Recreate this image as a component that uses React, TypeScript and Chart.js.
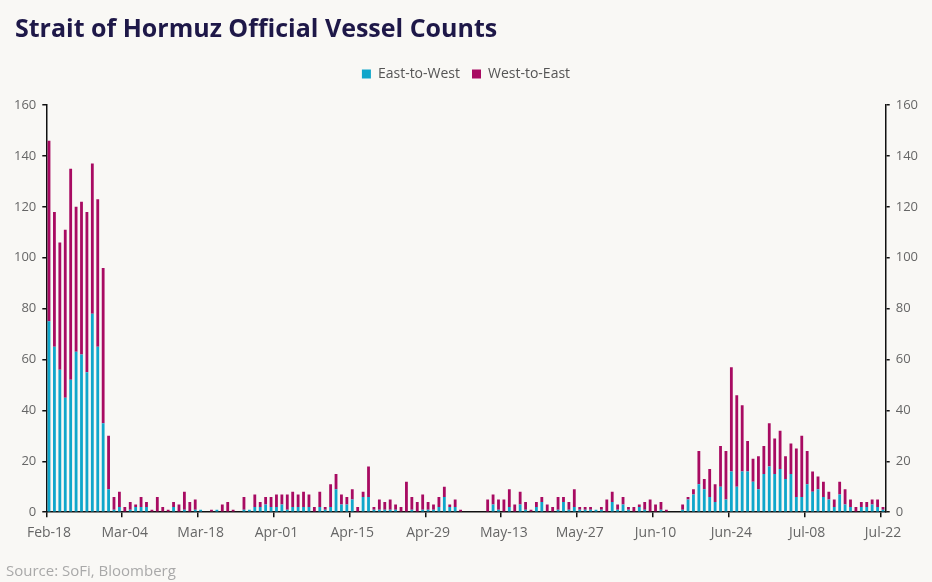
import { Chart, registerables, ChartConfiguration } from "chart.js";
import { useEffect, useRef } from "react";

Chart.register(...registerables);

// daily vessel counts, Feb-18 .. Jul-22
const eastToWest = [
  75, 65, 56, 45, 52, 63, 62, 55, 78, 65, 35, 9,
  1, 2, 0, 1, 2, 2, 2, 0, 0, 0, 0, 2, 0, 1, 0, 1,
  1, 0, 0, 1, 0, 0, 0, 0, 1, 1, 2, 2, 3, 2,
  2, 3, 1, 2, 2, 2, 2, 0, 2, 1, 2, 9, 3, 3,
  5, 0, 6, 6, 1, 1, 1, 1, 1, 0, 0, 1, 0, 1,
  1, 1, 2, 6, 2, 2, 0, 0, 0, 0, 0, 0, 3, 1,
  0, 2, 0, 3, 1, 0, 2, 4, 0, 0, 1, 4, 1, 2,
  1, 1, 1, 1, 1, 0, 4, 1, 3, 1, 0, 2, 1, 0,
  0, 1, 0, 0, 0, 1, 5, 7, 11, 9, 6, 4, 10, 5,
  16, 10, 16, 16, 12, 9, 15, 18, 15, 17, 13, 15, 6, 6,
  11, 8, 9, 6, 5, 2, 7, 3, 2, 0, 2, 2, 3, 2, 1,
];

const westToEast = [
  71, 53, 50, 66, 83, 57, 60, 63, 59, 58, 61, 21,
  5, 6, 2, 3, 1, 4, 2, 1, 6, 2, 1, 2, 3, 7, 4, 4,
  0, 0, 1, 0, 3, 4, 1, 0, 5, 0, 5, 2, 3, 4,
  5, 4, 6, 6, 5, 6, 5, 2, 6, 1, 9, 6, 4, 3,
  4, 2, 2, 12, 1, 4, 3, 4, 2, 2, 12, 5, 4, 6,
  3, 2, 4, 4, 1, 3, 1, 0, 0, 0, 0, 5, 4, 4,
  5, 7, 3, 5, 3, 1, 2, 2, 3, 2, 5, 2, 3, 7,
  1, 1, 1, 0, 1, 5, 4, 2, 3, 1, 2, 1, 3, 5,
  3, 3, 1, 0, 0, 2, 1, 2, 13, 4, 11, 7, 16, 19,
  41, 36, 26, 12, 9, 13, 11, 17, 14, 15, 9, 12, 19, 24,
  13, 8, 5, 6, 3, 3, 5, 6, 3, 2, 2, 2, 2, 3, 1,
];

const tickLabels = [
  "Feb-18", "Mar-04", "Mar-18", "Apr-01", "Apr-15", "Apr-29",
  "May-13", "May-27", "Jun-10", "Jun-24", "Jul-08", "Jul-22",
];

const months: [string, number][] = [
  ["Feb", 28], ["Mar", 31], ["Apr", 30], ["May", 31], ["Jun", 30], ["Jul", 31],
];

// one category per day
const days: string[] = [];
let m = 0;
let d = 18;
while (days.length < eastToWest.length) {
  days.push(`${months[m][0]}-${String(d).padStart(2, "0")}`);
  d++;
  if (d > months[m][1]) {
    d = 1;
    m++;
  }
}

const BLUE = "#10a6cb";
const MAGENTA = "#a80b62";
const FONT = "'Open Sans', sans-serif";

// extra gap under the legend
const legendGap = {
  id: "legendGap",
  beforeInit(chart: any) {
    const fit = chart.legend.fit;
    chart.legend.fit = function () {
      fit.bind(chart.legend)();
      this.height += 14;
    };
  },
};

const App = () => {
  const canvasRef = useRef<HTMLCanvasElement>(null);

  useEffect(() => {
    const ctx = canvasRef.current?.getContext("2d");
    if (!ctx) return;

    const yAxis = (position: "left" | "right") => ({
      position,
      min: 0,
      max: 160,
      stacked: true,
      ticks: { stepSize: 20, color: "#666", font: { family: FONT, size: 13 }, padding: 6 },
      grid: { drawOnChartArea: false, tickLength: 4, color: "#111", lineWidth: 1.5 },
      border: { display: true, color: "#111", width: 1.5 },
    });

    const config: ChartConfiguration = {
      type: "bar",
      data: {
        labels: days,
        datasets: [
          { label: "East-to-West", data: eastToWest, backgroundColor: BLUE, yAxisID: "y" },
          { label: "West-to-East", data: westToEast, backgroundColor: MAGENTA, yAxisID: "y" },
        ],
      },
      options: {
        animation: false,
        responsive: true,
        maintainAspectRatio: false,
        datasets: { bar: { categoryPercentage: 1, barPercentage: 0.52 } },
        layout: { padding: { top: 55, left: 8, right: 8, bottom: 34 } },
        plugins: {
          legend: {
            position: "top",
            labels: {
              boxWidth: 9,
              boxHeight: 9,
              padding: 12,
              color: "#555",
              font: { family: FONT, size: 14 },
            },
          },
          tooltip: { enabled: false },
        },
        scales: {
          x: {
            stacked: true,
            grid: {
              offset: true,
              drawOnChartArea: false,
              tickLength: 5,
              lineWidth: 1.5,
              color: (c: any) => (c.index % 14 === 0 ? "#111" : "rgba(0,0,0,0)"),
            },
            border: { display: true, color: "#111", width: 1.5 },
            ticks: {
              autoSkip: false,
              maxRotation: 0,
              padding: 7,
              color: "#666",
              font: { family: FONT, size: 14 },
              callback: (_v: any, i: number) => (tickLabels.includes(days[i]) ? days[i] : ""),
            },
          },
          y: yAxis("left"),
          y1: yAxis("right"),
        },
      },
      plugins: [legendGap],
    };

    const chart = new Chart(ctx, config);
    return () => {
      chart.destroy();
    };
  }, []);

  return (
    <div
      style={{
        position: "fixed",
        left: 0,
        top: 0,
        width: 932,
        height: 582,
        background: "#f9f8f5",
        fontFamily: FONT,
      }}
    >
      <div
        style={{
          position: "absolute",
          left: 15,
          top: 10,
          fontSize: 25,
          fontWeight: 700,
          color: "#1e1848",
          whiteSpace: "nowrap",
        }}
      >
        Strait of Hormuz Official Vessel Counts
      </div>
      <canvas ref={canvasRef} />
      <div
        style={{
          position: "absolute",
          left: 6,
          top: 560,
          fontSize: 15,
          color: "#a9a9a9",
          whiteSpace: "nowrap",
        }}
      >
        Source: SoFi, Bloomberg
      </div>
    </div>
  );
};

export default App;
